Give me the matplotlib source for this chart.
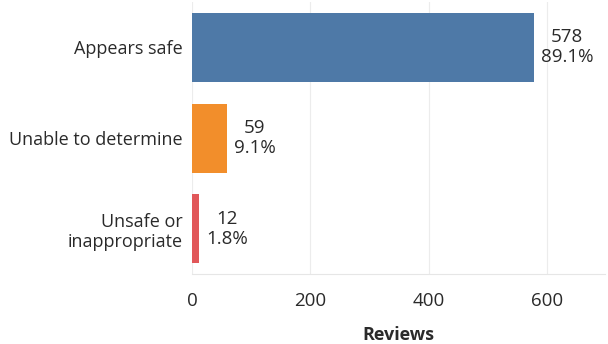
import matplotlib.pyplot as plt

categories = ["Appears safe", "Unable to determine", "Unsafe or\ninappropriate"]
reviews = [578, 59, 12]
percents = ["89.1%", "9.1%", "1.8%"]
colors = ["#4e79a7", "#f28e2b", "#e15759"]

plt.rcParams['font.family'] = ['Open Sans', 'DejaVu Sans']

fig = plt.figure(figsize=(6.08, 3.44), dpi=100)
ax = fig.add_axes([0.316, 0.203, 0.679, 0.791])

pos = list(range(len(categories)))
ax.barh(pos, reviews, height=0.76, color=colors, zorder=3)
ax.set_ylim(2.5, -0.5)
ax.set_xlim(0, 698)

for p, v, pc in zip(pos, reviews, percents):
    ax.annotate(f"{v}\n{pc}", (v, p), xytext=(5, 0), textcoords="offset points",
                ha="left", va="center", multialignment="center",
                fontsize=13.5, color="#2a2a2a", linespacing=1.15)

ax.set_yticks(pos)
ax.set_yticklabels(categories, fontsize=13, color="#2a2a2a", linespacing=1.15,
                   multialignment="right")
ax.set_xticks([0, 200, 400, 600])
ax.tick_params(axis="both", length=0, labelcolor="#2a2a2a")
ax.tick_params(axis="x", labelsize=13.5, pad=13)
ax.tick_params(axis="y", pad=7)
ax.set_xlabel("Reviews", fontsize=13, fontweight="bold", color="#2a2a2a", labelpad=11)

ax.grid(axis="x", color="#ececec", linewidth=0.8, zorder=0)
for s in ["top", "right", "left"]:
    ax.spines[s].set_visible(False)
ax.spines["bottom"].set_color("#e6e6e6")
ax.spines["bottom"].set_linewidth(0.8)

fig.savefig("out.png", dpi=100)
